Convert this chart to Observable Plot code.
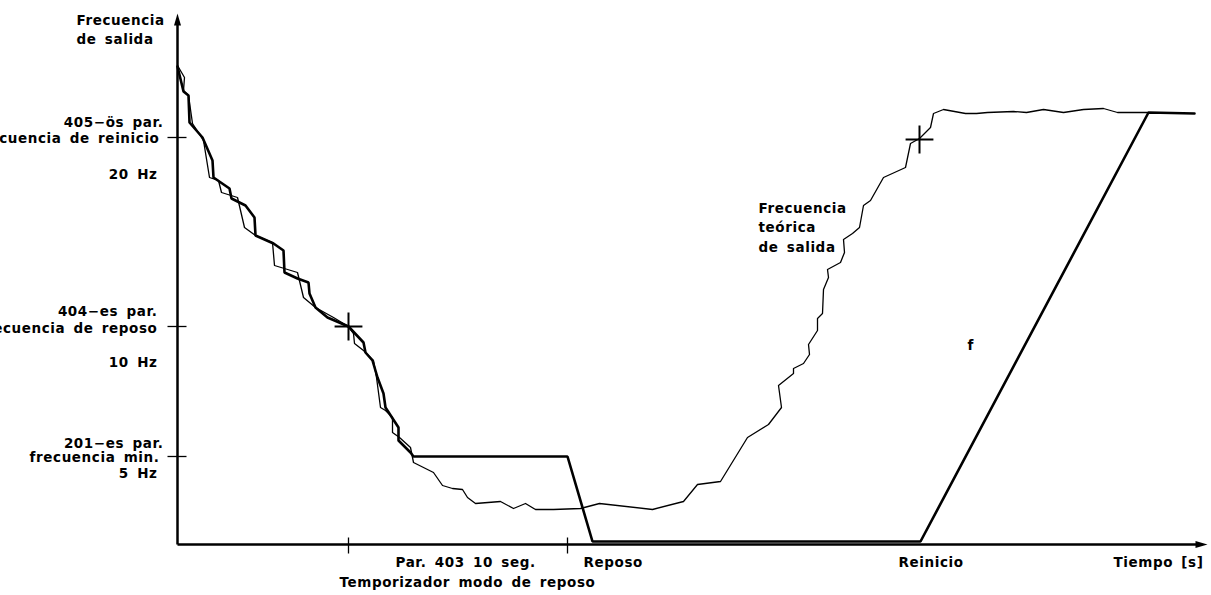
<!DOCTYPE html>
<html>
<head>
<meta charset="utf-8">
<script src="https://cdn.jsdelivr.net/npm/d3@7"></script>
<script src="https://cdn.jsdelivr.net/npm/@observablehq/plot@0.6"></script>
<style>
  html, body { margin: 0; padding: 0; background: #fff; overflow: hidden; }
</style>
</head>
<body>
<div id="chart"></div>
<script>
// Time axis units (arbitrary) and output-frequency units (arbitrary drawing scale)
const actualT = [0,6,11,12,25,35,36,52,54,68,77,78,96,106,107,120,131,132,138,150,171,186,188,195,200,206,208,221,221,233,236,390,415,743,971,1017];
const actualF = [479,454,450,423,408,385,368,357,347,340,328,310,302,295,273,267,263,252,238,228,219,203,193,185,168,152,138,118,105,93,89,89,4,4,433,432];

const theoryT = [0,7,6,11,15,26,32,41,44,60,67,78,95,97,120,126,138,156,171,176,177,186,196,199,203,208,215,215,222,233,236,256,265,275,285,290,298,323,336,348,358,376,403,422,475,506,520,543,570,591,604,601,616,616,626,632,631,640,640,645,646,651,650,663,667,666,675,682,686,693,706,728,733,742,753,756,766,788,799,810,836,849,866,886,906,926,940,971];
const theoryF = [480,468,455,450,422,405,368,365,353,348,318,310,303,280,273,248,238,228,219,212,202,195,185,168,138,135,128,113,108,98,83,73,60,57,56,48,42,44,37,42,36,36,37,42,36,44,61,64,108,121,138,160,172,177,182,191,201,215,227,232,256,268,276,283,293,306,312,318,340,345,368,378,402,407,418,432,436,432,432,433,434,433,436,433,436,437,433,433];

// Parameter levels on the frequency axis
const levelValues = [408, 219, 89];
const levelLabels = [
  ["405−ös par.", "frecuencia de reinicio", "20 Hz"],
  ["404−es par.", "frecuencia de reposo", "10 Hz"],
  ["201−es par.", "frecuencia min.", "5 Hz"]
];

// Time-axis events
const eventTimes = [171, 390];
const eventLabels = ["Par. 403 10 seg.", "Reposo", "Reinicio"];
const timerLabel = "Temporizador modo de reposo";
const xTitle = "Tiempo [s]";
const yTitle = ["Frecuencia", "de salida"];
const curveLabel = ["Frecuencia", "teórica", "de salida"];
const fLabel = "f";

// Crossing markers (where the curves reach the parameter levels)
const markT = [171, 742];
const markF = [219, 406];

const actual = actualT.map((t, i) => ({t, f: actualF[i]}));
const theory = theoryT.map((t, i) => ({t, f: theoryF[i]}));
const marks = markT.map((t, i) => ({t, f: markF[i]}));

const arrowUp = {
  draw(ctx) {
    ctx.moveTo(0, -12);
    ctx.lineTo(3.5, 0);
    ctx.lineTo(-3.5, 0);
    ctx.closePath();
  }
};

const txt = (str, x, y, anchor) =>
  Plot.text([str], {x: () => x, y: () => y, text: d => d, textAnchor: anchor, lineAnchor: "middle", fill: "black"});

const chart = Plot.plot({
  width: 1211,
  height: 595,
  margin: 0,
  x: {domain: [-177, 1034], axis: null},
  y: {domain: [-50, 545], axis: null},
  style: {
    fontFamily: "'DejaVu Sans', sans-serif",
    fontSize: "13.5px",
    fontWeight: "bold",
    letterSpacing: "0.6px",
    wordSpacing: "3px",
    background: "white",
    overflow: "visible"
  },
  marks: [
    // axes
    Plot.link([0], {x1: 0, y1: 1, x2: 0, y2: 522, stroke: "black", strokeWidth: 2.5}),
    Plot.link([0], {x1: 0, y1: 1, x2: 1020, y2: 1, stroke: "black", strokeWidth: 2.5}),
    Plot.dot([0], {x: () => 0, y: () => 520, symbol: arrowUp, fill: "black", stroke: null, r: 5}),
    Plot.dot([0], {x: () => 1018, y: () => 1, symbol: arrowUp, fill: "black", stroke: null, r: 5, rotate: 90}),
    // level ticks
    Plot.link(levelValues, {x1: -10, x2: 9, y1: d => d, y2: d => d, stroke: "black", strokeWidth: 1.3}),
    // event ticks
    Plot.link(eventTimes, {x1: d => d, x2: d => d, y1: -8, y2: 8, stroke: "black", strokeWidth: 1.3}),
    // curves
    Plot.line(theory, {x: "t", y: "f", stroke: "black", strokeWidth: 1.3, curve: "linear"}),
    Plot.line(actual, {x: "t", y: "f", stroke: "black", strokeWidth: 2.6, curve: "linear", strokeLinejoin: "miter"}),
    Plot.dot(marks, {x: "t", y: "f", symbol: "plus", r: 9, stroke: "black", strokeWidth: 2, fill: "none"}),
    // y-axis title
    txt(yTitle[0], -101, 524.5, "start"),
    txt(yTitle[1], -101, 505.5, "start"),
    // level labels
    txt(levelLabels[0][0], -14, 422.5, "end"),
    txt(levelLabels[0][1], -18, 406.5, "end"),
    txt(levelLabels[0][2], -20, 370.5, "end"),
    txt(levelLabels[1][0], -20, 233.5, "end"),
    txt(levelLabels[1][1], -20, 216.5, "end"),
    txt(levelLabels[1][2], -20, 182.5, "end"),
    txt(levelLabels[2][0], -14, 101.5, "end"),
    txt(levelLabels[2][1], -18, 87.5, "end"),
    txt(levelLabels[2][2], -20, 71.5, "end"),
    // bottom labels
    txt(eventLabels[0], 218, -17.5, "start"),
    txt(eventLabels[1], 406, -17.5, "start"),
    txt(eventLabels[2], 721, -17.5, "start"),
    txt(timerLabel, 162, -37.5, "start"),
    txt(xTitle, 1026, -17.5, "end"),
    // curve annotation
    txt(curveLabel[0], 581, 336.5, "start"),
    txt(curveLabel[1], 581, 317.5, "start"),
    txt(curveLabel[2], 581, 297.5, "start"),
    txt(fLabel, 790, 199.5, "start")
  ]
});
document.getElementById("chart").appendChild(chart);
</script>
</body>
</html>
